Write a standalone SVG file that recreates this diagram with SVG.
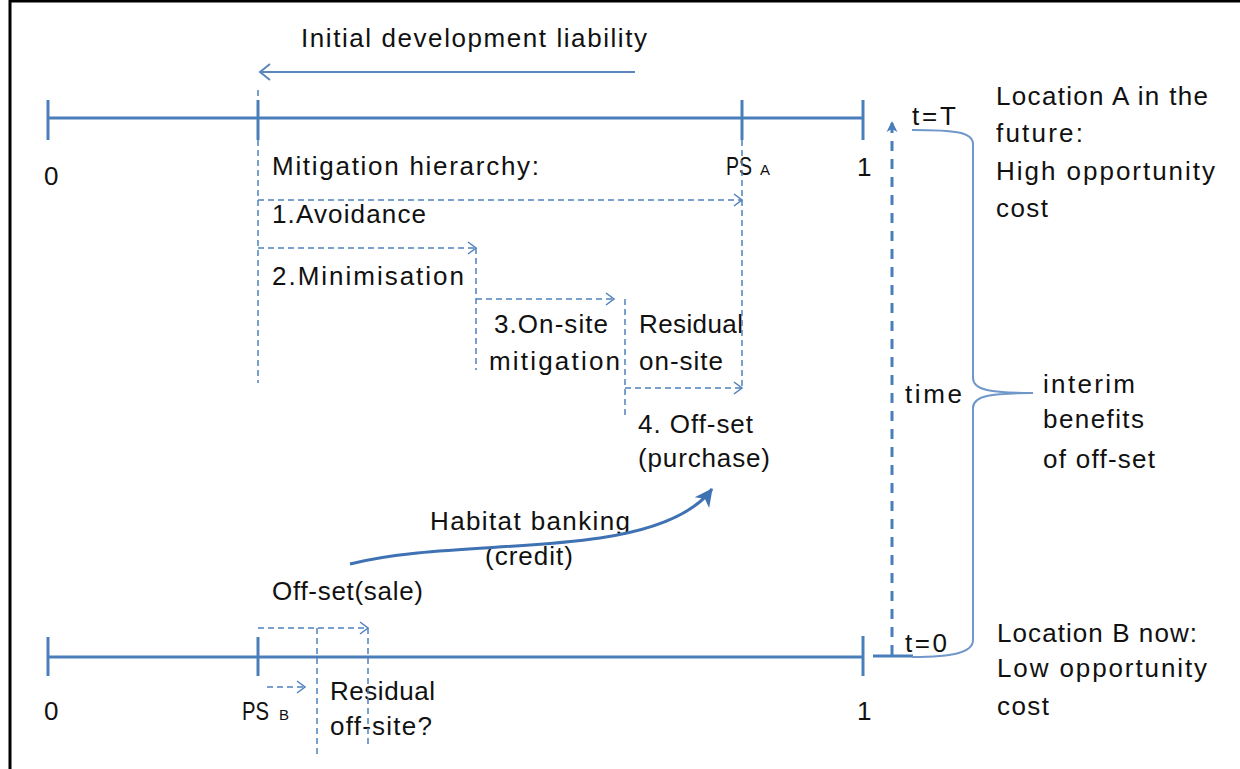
<svg xmlns="http://www.w3.org/2000/svg" width="1240" height="769" viewBox="0 0 1240 769">
<style>
text{font-family:"Liberation Sans",Arial,sans-serif;font-size:26px;fill:#111}
.sub{font-size:15px}
.axis{stroke:#4a7ebb;stroke-width:3;fill:none}
.dash{stroke:#4f81bd;stroke-width:1.5;fill:none;stroke-dasharray:6 4}
.dashA{stroke:#4f81bd;stroke-width:1.5;fill:none;stroke-dasharray:6 4;marker-end:url(#chev)}
.brace{stroke:#6f97c9;stroke-width:2;fill:none}
</style>
<defs>
<marker id="chev" markerUnits="userSpaceOnUse" markerWidth="12" markerHeight="14" refX="10" refY="7" orient="auto" viewBox="0 0 12 14">
<path d="M2,1 L10,7 L2,13" fill="none" stroke="#4f81bd" stroke-width="1.5"/>
</marker>
<marker id="chevBig" markerUnits="userSpaceOnUse" markerWidth="14" markerHeight="18" refX="12" refY="9" orient="auto" viewBox="0 0 14 18">
<path d="M2,1 L12,9 L2,17" fill="none" stroke="#5b86c0" stroke-width="2"/>
</marker>
<marker id="tri" markerUnits="userSpaceOnUse" markerWidth="12" markerHeight="12" refX="10" refY="6" orient="auto" viewBox="0 0 12 12">
<path d="M0,0.5 L11,6 L0,11.5 L3,6 Z" fill="#4a7ebb"/>
</marker>
<marker id="triCurve" markerUnits="userSpaceOnUse" markerWidth="20" markerHeight="20" refX="17" refY="10" orient="auto" viewBox="0 0 20 20">
<path d="M0,1 L18,10 L0,19 L5,10 Z" fill="#3f72b3"/>
</marker>
</defs>

<g id="frame">
<line x1="10" y1="1" x2="1240" y2="1" stroke="#000" stroke-width="3"/>
<line x1="10" y1="0" x2="10" y2="769" stroke="#000" stroke-width="3"/>
</g>

<g id="axis-A">
<line class="axis" x1="48" y1="118" x2="863" y2="118"/>
<line class="axis" x1="48" y1="100" x2="48" y2="140"/>
<line class="axis" x1="258" y1="100" x2="258" y2="140"/>
<line class="axis" x1="742" y1="100" x2="742" y2="140"/>
<line class="axis" x1="863" y1="100" x2="863" y2="140"/>
<text x="44" y="185">0</text>
<text x="857" y="176">1</text>
<text x="726" y="175" textLength="26" lengthAdjust="spacingAndGlyphs">PS</text><text class="sub" x="760" y="175">A</text>
</g>

<g id="axis-B">
<line class="axis" x1="48" y1="657" x2="863" y2="657"/>
<line class="axis" x1="48" y1="637" x2="48" y2="676"/>
<line class="axis" x1="258" y1="637" x2="258" y2="676"/>
<line class="axis" x1="863" y1="636" x2="863" y2="676"/>
<line class="axis" x1="873" y1="656" x2="913" y2="656"/>
<text x="44" y="720">0</text>
<text x="857" y="720">1</text>
<text x="242" y="720" textLength="27" lengthAdjust="spacingAndGlyphs">PS</text><text class="sub" x="279" y="720">B</text>
</g>

<g id="liability">
<text x="301" y="47" textLength="346">Initial development liability</text>
</g>

<g id="mitigation">
<text x="272" y="175" textLength="267">Mitigation hierarchy:</text>
<text x="272" y="223" textLength="154">1.Avoidance</text>
<text x="272" y="285" textLength="192">2.Minimisation</text>
<text x="494" y="333" textLength="114">3.On-site</text>
<text x="489" y="370" textLength="131">mitigation</text>
<text x="639" y="333" textLength="104">Residual</text>
<text x="639" y="370" textLength="84">on-site</text>
<text x="638" y="433" textLength="115">4. Off-set</text>
<text x="638" y="467" textLength="132">(purchase)</text>
</g>

<g id="banking">
<text x="430" y="530" textLength="200">Habitat banking</text>
<text x="485" y="565" textLength="88">(credit)</text>
<text x="272" y="600" textLength="151">Off-set(sale)</text>
</g>

<g id="offsite">
<text x="330" y="700" textLength="105">Residual</text>
<text x="330" y="735" textLength="102">off-site?</text>
</g>

<g id="time-labels">
<text x="912" y="125" textLength="44">t=T</text>
<text x="905" y="403" textLength="57">time</text>
<text x="905" y="652" textLength="42">t=0</text>
<text x="1043" y="393" textLength="92">interim</text>
<text x="1043" y="428" textLength="101">benefits</text>
<text x="1043" y="468" textLength="112">of off-set</text>
</g>

<g id="location-A">
<text x="996" y="105" textLength="212">Location A in the</text>
<text x="996" y="142" textLength="87">future:</text>
<text x="996" y="180" textLength="219">High opportunity</text>
<text x="996" y="217" textLength="52">cost</text>
</g>

<g id="location-B">
<text x="997" y="642" textLength="200">Location B now:</text>
<text x="997" y="677" textLength="210">Low opportunity</text>
<text x="997" y="715" textLength="52">cost</text>
</g>

<g id="connectors">
<line x1="635" y1="72" x2="260" y2="72" stroke="#5b86c0" stroke-width="2" marker-end="url(#chevBig)"/>
<line class="dash" x1="258" y1="90" x2="258" y2="100"/>
<line class="dash" x1="258" y1="140" x2="258" y2="383"/>
<line class="dash" x1="742" y1="140" x2="742" y2="388"/>
<line class="dash" x1="476" y1="248" x2="476" y2="370"/>
<line class="dash" x1="625" y1="299" x2="625" y2="419"/>
<line class="dashA" x1="258" y1="200" x2="742" y2="200"/>
<line class="dashA" x1="258" y1="248" x2="476" y2="248"/>
<line class="dashA" x1="476" y1="299" x2="614" y2="299"/>
<line class="dashA" x1="625" y1="388" x2="742" y2="388"/>
<line class="dashA" x1="258" y1="628" x2="368" y2="628"/>
<line class="dash" x1="368" y1="628" x2="368" y2="747"/>
<line class="dash" x1="317" y1="628" x2="317" y2="755"/>
<line class="dashA" x1="267" y1="687" x2="305" y2="687"/>
<path d="M350,564 C420,546 520,550 600,538 C660,529 695,512 712,489" stroke="#3f72b3" stroke-width="3" fill="none" marker-end="url(#triCurve)"/>
<line x1="892" y1="655" x2="892" y2="122" stroke="#4a7ebb" stroke-width="3" stroke-dasharray="10 8" marker-end="url(#tri)"/>
<path class="brace" d="M912,130 C955,130 973,132 973,144 L973,378 C973,390 990,393 1033,393 C990,393 973,396 973,408 L973,640 C973,652 955,657 912,657"/>
</g>
</svg>
